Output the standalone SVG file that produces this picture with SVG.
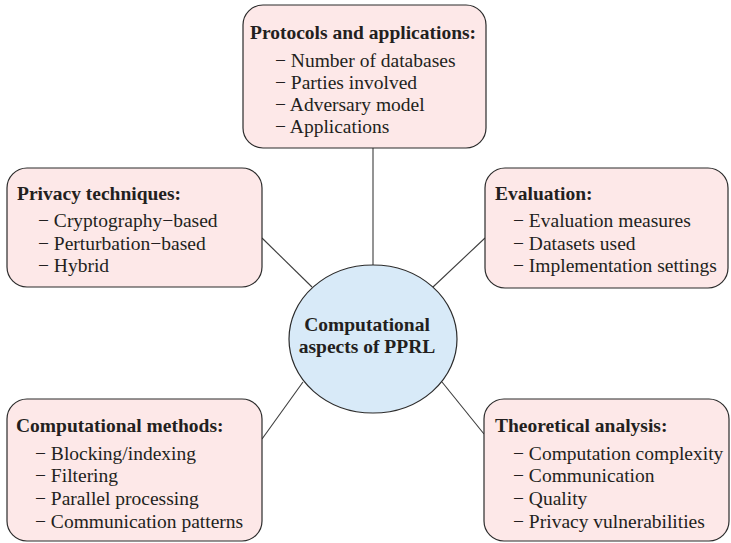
<svg xmlns="http://www.w3.org/2000/svg" width="731" height="543" viewBox="0 0 731 543">
<style>
.box{fill:#fde8e8;stroke:#2b2b2b;stroke-width:1.2}
.hub{fill:#d8eaf8;stroke:#2b2b2b;stroke-width:1.2}
.link{stroke:#3c3c3c;stroke-width:1.1;fill:none}
text{font-family:"Liberation Serif","Times New Roman",serif;font-size:19.5px;fill:#231f20}
.t{font-weight:bold}
</style>
<rect width="731" height="543" fill="#ffffff"/>
<g id="connectors">
<line class="link" x1="373" y1="148" x2="373" y2="265"/>
<line class="link" x1="262" y1="238" x2="312" y2="287"/>
<line class="link" x1="485" y1="238" x2="433" y2="287"/>
<line class="link" x1="303" y1="382" x2="262" y2="439"/>
<line class="link" x1="442" y1="382" x2="484" y2="434"/>
</g>
<g id="protocols">
<rect class="box" x="243" y="5" width="243" height="143" rx="20"/>
<text class="t" x="250" y="39">Protocols and applications:</text>
<text x="275" y="66.7">− Number of databases</text>
<text x="275" y="88.9">− Parties involved</text>
<text x="275" y="111.1">− Adversary model</text>
<text x="275" y="133.3">− Applications</text>
</g>
<g id="privacy">
<rect class="box" x="7" y="168" width="255" height="119" rx="20"/>
<text class="t" x="17" y="200">Privacy techniques:</text>
<text x="38" y="227.3">− Cryptography−based</text>
<text x="38" y="249.8">− Perturbation−based</text>
<text x="38" y="272.3">− Hybrid</text>
</g>
<g id="evaluation">
<rect class="box" x="485" y="168" width="243" height="120" rx="20"/>
<text class="t" x="495" y="200">Evaluation:</text>
<text x="513" y="227.3">− Evaluation measures</text>
<text x="513" y="249.8">− Datasets used</text>
<text x="513" y="272.3">− Implementation settings</text>
</g>
<g id="methods">
<rect class="box" x="7" y="399" width="255" height="142" rx="20"/>
<text class="t" x="16" y="432">Computational methods:</text>
<text x="35" y="459.7">− Blocking/indexing</text>
<text x="35" y="482.4">− Filtering</text>
<text x="35" y="505.1">− Parallel processing</text>
<text x="35" y="527.8">− Communication patterns</text>
</g>
<g id="theoretical">
<rect class="box" x="484" y="399" width="245" height="142" rx="20"/>
<text class="t" x="495" y="432">Theoretical analysis:</text>
<text x="513" y="459.7">− Computation complexity</text>
<text x="513" y="482.4">− Communication</text>
<text x="513" y="505.1">− Quality</text>
<text x="513" y="527.8">− Privacy vulnerabilities</text>
</g>
<g id="center">
<ellipse class="hub" cx="373" cy="339" rx="84" ry="74"/>
<text class="t" x="367" y="331" text-anchor="middle">Computational</text>
<text class="t" x="367" y="353.3" text-anchor="middle">aspects of PPRL</text>
</g>
</svg>
